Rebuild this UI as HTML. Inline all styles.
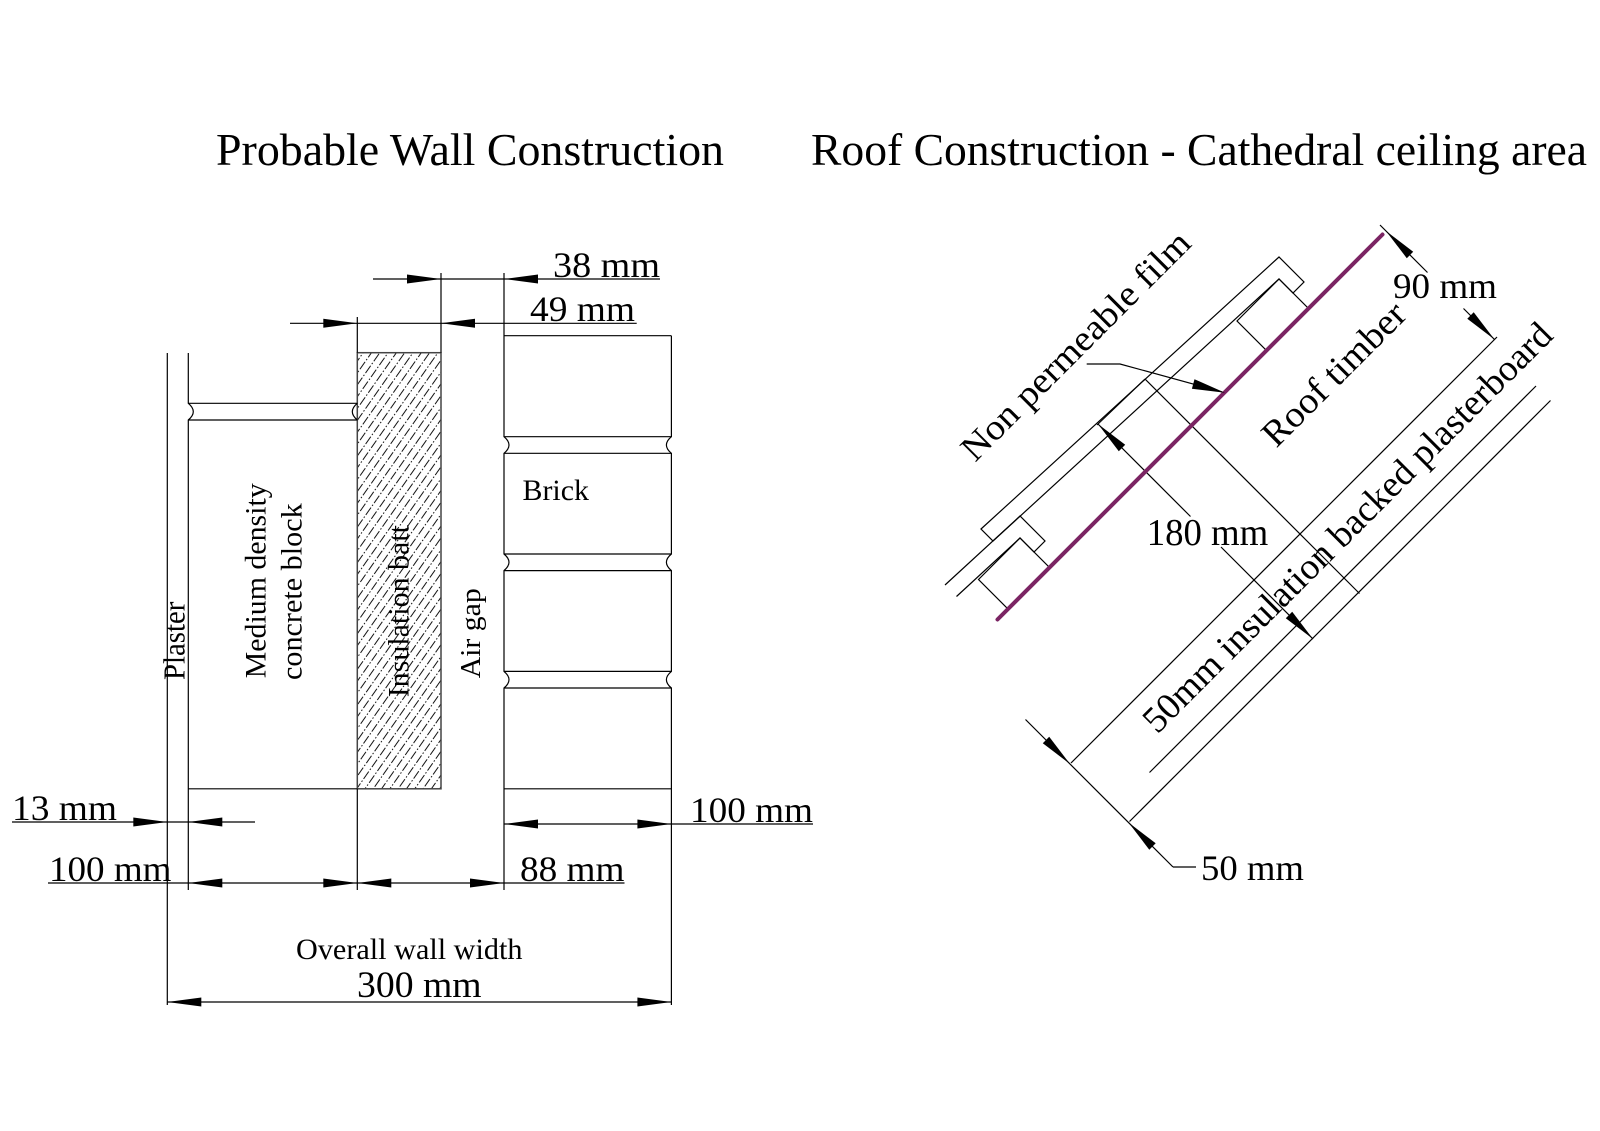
<!DOCTYPE html>
<html>
<head>
<meta charset="utf-8">
<style>
  html, body { margin: 0; padding: 0; background: #fff; }
  svg { display: block; }
  text { font-family: "Liberation Serif", "Times New Roman", serif; fill: #000; }
  .r path { vector-effect: non-scaling-stroke; }
</style>
</head>
<body>
<svg xmlns="http://www.w3.org/2000/svg" width="1600" height="1131" viewBox="0 0 1600 1131">
  <defs>
    <pattern id="h" width="6.8" height="14.5" patternUnits="userSpaceOnUse" patternTransform="rotate(35)">
      <line x1="3.4" y1="0" x2="3.4" y2="14.5" stroke="#111" stroke-width="1" stroke-dasharray="9 2 1.5 2"/>
    </pattern>
  </defs>
  <rect width="1600" height="1131" fill="#fff"/>

  <!-- Titles -->
  <text x="216" y="165" font-size="46" textLength="508" lengthAdjust="spacingAndGlyphs">Probable Wall Construction</text>
  <text x="811" y="165" font-size="46" textLength="776" lengthAdjust="spacingAndGlyphs">Roof Construction - Cathedral ceiling area</text>

  <!-- ================= WALL ================= -->
  <g stroke="#000" stroke-width="1.2" fill="none">
    <rect x="357.3" y="352.7" width="83.7" height="436.1" fill="url(#h)" stroke="#444" stroke-width="1.5"/>

    <path d="M167.3,353 V1005"/>
    <path d="M188.3,353 V403.3 Q198.3,411.6 188.3,420 V890"/>

    <path d="M188.3,403.3 H357.3 M188.3,420 H357.3"/>
    <path d="M357.3,403.3 Q347.3,411.6 357.3,420"/>
    <path d="M188.3,788.8 H357.3"/>

    <path d="M357.3,317 V352.7 M357.3,788.8 V890"/>
    <path d="M441,273 V352.7"/>

    <path d="M504,273 V436.7 Q514,445 504,453.3 V554 Q514,562.3 504,570.6 V671.4 Q514,679.7 504,688 V890"/>
    <path d="M671.4,335.7 V436.7 Q661.4,445 671.4,453.3 V554 Q661.4,562.3 671.4,570.6 V671.4 Q661.4,679.7 671.4,688 V1005"/>
    <path d="M504,335.7 H671.4 M504,436.7 H671.4 M504,453.3 H671.4 M504,554 H671.4 M504,570.6 H671.4 M504,671.4 H671.4 M504,688 H671.4 M504,788.8 H671.4"/>

    <path d="M373,279 H660"/>
    <path d="M290,323.3 H636.7"/>
    <path d="M12,822 H255"/>
    <path d="M504,824 H813"/>
    <path d="M48,883 H624.5"/>
    <path d="M167.3,1002 H671.4"/>
  </g>

  <g fill="#000">
    <polygon points="441,279 407,274.5 407,283.5"/>
    <polygon points="504,279 538,274.5 538,283.5"/>
    <polygon points="357.3,323.3 323.3,318.8 323.3,327.8"/>
    <polygon points="441,323.3 475,318.8 475,327.8"/>
    <polygon points="167.3,822 133.3,817.5 133.3,826.5"/>
    <polygon points="188.3,822 222.3,817.5 222.3,826.5"/>
    <polygon points="504,824 538,819.5 538,828.5"/>
    <polygon points="671.4,824 637.4,819.5 637.4,828.5"/>
    <polygon points="188.3,883 222.3,878.5 222.3,887.5"/>
    <polygon points="357.3,883 323.3,878.5 323.3,887.5"/>
    <polygon points="357.3,883 391.3,878.5 391.3,887.5"/>
    <polygon points="504,883 470,878.5 470,887.5"/>
    <polygon points="167.3,1002 201.3,997.5 201.3,1006.5"/>
    <polygon points="671.4,1002 637.4,997.5 637.4,1006.5"/>
  </g>

  <text x="553" y="277" font-size="36" textLength="107" lengthAdjust="spacingAndGlyphs">38 mm</text>
  <text x="530" y="321" font-size="36" textLength="105" lengthAdjust="spacingAndGlyphs">49 mm</text>
  <text x="12" y="820" font-size="36" textLength="105" lengthAdjust="spacingAndGlyphs">13 mm</text>
  <text x="690" y="822" font-size="36" textLength="123" lengthAdjust="spacingAndGlyphs">100 mm</text>
  <text x="49" y="881" font-size="36" textLength="122.5" lengthAdjust="spacingAndGlyphs">100 mm</text>
  <text x="520" y="881" font-size="36" textLength="104.5" lengthAdjust="spacingAndGlyphs">88 mm</text>
  <text x="296" y="959" font-size="30" textLength="226.5" lengthAdjust="spacingAndGlyphs">Overall wall width</text>
  <text x="357" y="997" font-size="37" textLength="124.6" lengthAdjust="spacingAndGlyphs">300 mm</text>

  <text x="522.5" y="500" font-size="30" textLength="66.5" lengthAdjust="spacingAndGlyphs">Brick</text>
  <text transform="translate(184.3,680) rotate(-90)" font-size="31" textLength="78.3" lengthAdjust="spacingAndGlyphs">Plaster</text>
  <text transform="translate(265.5,678.3) rotate(-90)" font-size="30" textLength="195" lengthAdjust="spacingAndGlyphs">Medium density</text>
  <text transform="translate(301.7,680) rotate(-90)" font-size="30" textLength="176.7" lengthAdjust="spacingAndGlyphs">concrete block</text>
  <text transform="translate(408.3,697.3) rotate(-90)" font-size="30" textLength="172.3" lengthAdjust="spacingAndGlyphs">Insulation batt</text>
  <text transform="translate(480,678.3) rotate(-90)" font-size="29" textLength="90" lengthAdjust="spacingAndGlyphs">Air gap</text>

  <!-- ================= ROOF ================= -->
  <g class="r" transform="matrix(0.5,-0.5,0.5,0.5,0,0)" stroke="#000" stroke-width="1.2" fill="none">
    <path d="M452,1510 L1022,1536 L1022,1586 L1000,1586 L1000,1558 L452,1534 Z"/>
    <path d="M360,1530 L504,1536 L504,1586 L482,1586 L482,1558 L360,1553"/>
    <path d="M399,1558 L482,1558 L482,1617 L399,1617 Z"/>
    <path d="M916,1558 L1000,1558 L1000,1617 L916,1617 Z"/>
    <path d="M672,1522 L766,1524"/>
    <path d="M766,1525 L766,1953"/>
    <path d="M674,1522 L674,1707 M674,1768 L674,1952"/>
    <path d="M308,1834 L1160,1834"/>
    <path d="M377,1922 L1150,1922"/>
    <path d="M308,1951 L1150,1951"/>
    <path d="M306,1745 L306,2040"/>
    <path d="M1155,1605 L1155,1700 M1155,1772 L1155,1834"/>
    <path d="M378,1617 L1148,1617" stroke="#7b2463" stroke-width="4" stroke-linecap="round"/>
    <g fill="#000" stroke="none">
      <polygon points="674,1522 667.6,1570 680.4,1570"/>
      <polygon points="674,1952 667.6,1904 680.4,1904"/>
      <polygon points="306,1834 299.6,1786 312.4,1786"/>
      <polygon points="306,1951 299.6,1999 312.4,1999"/>
      <polygon points="1155,1617 1148.6,1665 1161.4,1665"/>
      <polygon points="1155,1834 1148.6,1786 1161.4,1786"/>
    </g>
  </g>

  <g stroke="#000" stroke-width="1.2" fill="none">
    <path d="M1173,867 H1196"/>
    <path d="M1086.7,364 H1120 L1222,391.9"/>
  </g>
  <polygon points="1225,392.7 1191.9,388.8 1194.5,379.2" fill="#000"/>

  <text x="1146.7" y="545" font-size="38" textLength="121.6" lengthAdjust="spacingAndGlyphs">180 mm</text>
  <text x="1393" y="298" font-size="36" textLength="104" lengthAdjust="spacingAndGlyphs">90 mm</text>
  <text x="1201" y="880" font-size="36" textLength="103" lengthAdjust="spacingAndGlyphs">50 mm</text>

  <text transform="translate(1084,354) rotate(-45)" text-anchor="middle" font-size="36" textLength="308" lengthAdjust="spacingAndGlyphs">Non permeable film</text>
  <text transform="translate(1342.4,382.6) rotate(-45)" text-anchor="middle" font-size="37" textLength="187" lengthAdjust="spacingAndGlyphs">Roof timber</text>
  <text transform="translate(1356,536) rotate(-45)" text-anchor="middle" font-size="37" textLength="562" lengthAdjust="spacingAndGlyphs">50mm insulation backed plasterboard</text>
</svg>
</body>
</html>
